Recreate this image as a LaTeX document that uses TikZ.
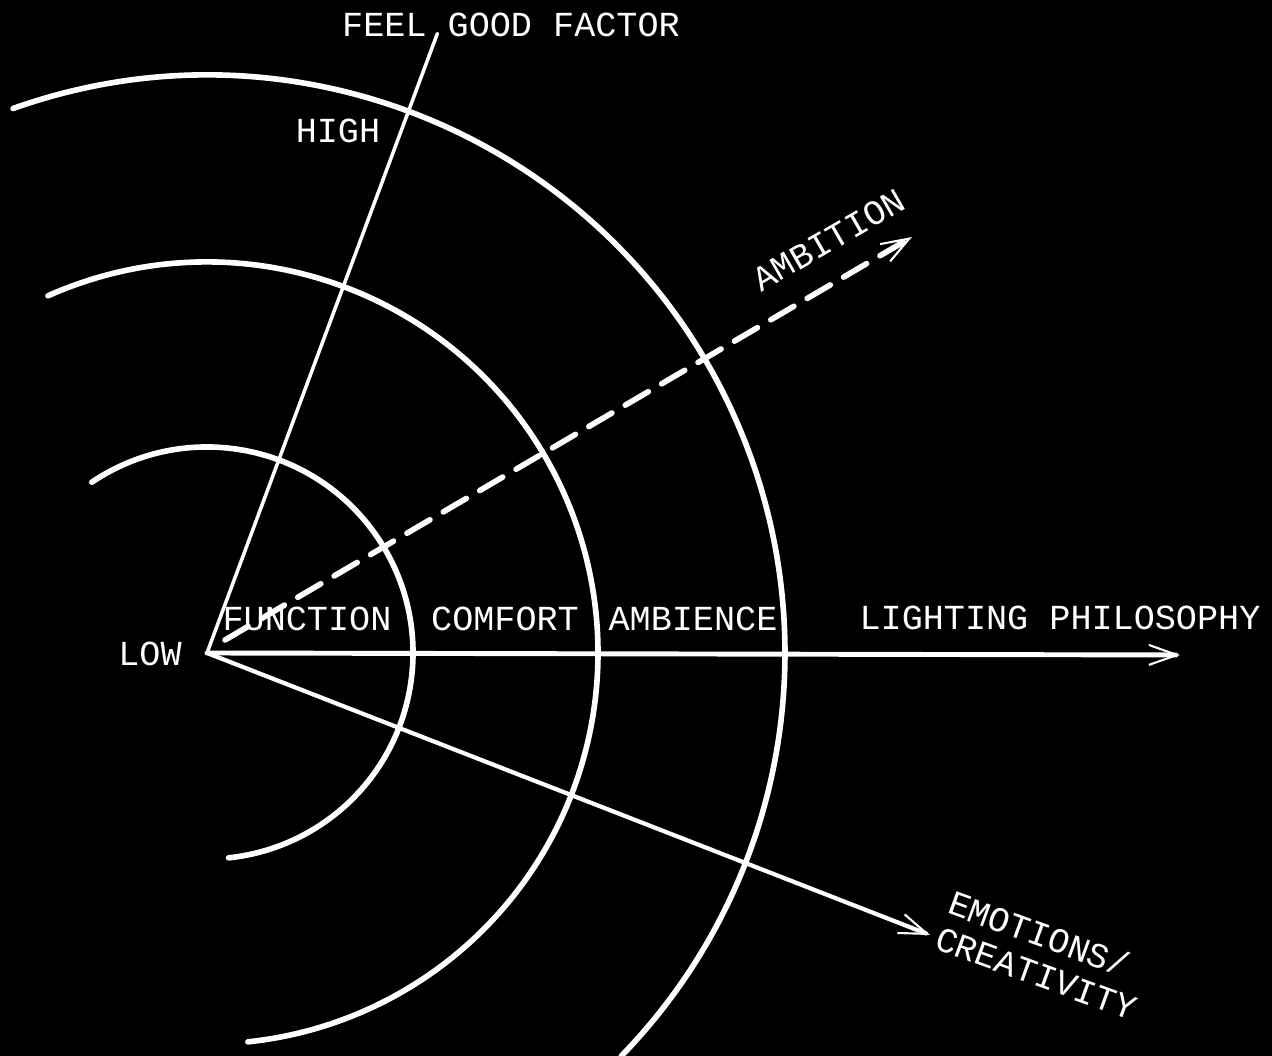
\documentclass[tikz,border=0pt]{standalone}
\usepackage{fontspec}
\setmonofont{Liberation Mono}
\usepackage{tikz}
\usetikzlibrary{arrows.meta,positioning}

\begin{document}
\begin{tikzpicture}[x=0.025cm,y=0.025cm,
  chalk/.style={white, line cap=round},
  ring/.style={chalk, line width=4pt},
  axe/.style={chalk, line width=3pt},
  fleche/.style={axe, -{Straight Barb[length=7mm, width=5mm, line width=1.5pt]}},
  pointille/.style={fleche, line width=4pt, dash pattern=on 19pt off 11pt, line cap=round},
  lbl/.style={text=white, font=\ttfamily\fontsize{25}{27}\selectfont, inner sep=0pt, align=left}]
  % board
  \fill[black] (-207,-403) rectangle (1065,653);
  \useasboundingbox (-207,-403) rectangle (1065,653);
  % rings
  \foreach \r/\a/\b in {206/124/-84, 391/114/-84, 578/109.6/-44.2}
    \draw[ring] (\a:\r) arc[start angle=\a, end angle=\b, radius=\r];
  % axes
  \coordinate (O) at (0,0);
  \coordinate (top) at (69.6:661);
  \coordinate (lp) at (973,-2);
  \coordinate (em) at (723,-282);
  \coordinate (amb0) at (18,13);
  \coordinate (amb1) at (705,416);
  \draw[axe, line width=2.5pt] (O) -- (top);
  \draw[fleche, line width=3.5pt] (O) -- (lp);
  \draw[fleche] (O) -- (em);
  \draw[pointille] (amb0) -- (amb1);
  % labels
  \node[lbl] (fgf) at (304,628) {FEEL GOOD FACTOR};
  \node[lbl] (high) at (131,522) {HIGH};
  \node[lbl] (low) at (-57,-1) {LOW};
  \node[lbl] (func) at (100,34) {FUNCTION};
  \node[lbl] (comf) at (298,34) {COMFORT};
  \node[lbl] (ambi) at (486,34) {AMBIENCE};
  \node[lbl] (phil) at (853,35) {LIGHTING PHILOSOPHY};
  \node[lbl, rotate=30] (ambit) at (622,413) {AMBITION};
  \node[lbl, rotate=-20] (emo) at (836,-302) {EMOTIONS/\\CREATIVITY};
\end{tikzpicture}
\end{document}
